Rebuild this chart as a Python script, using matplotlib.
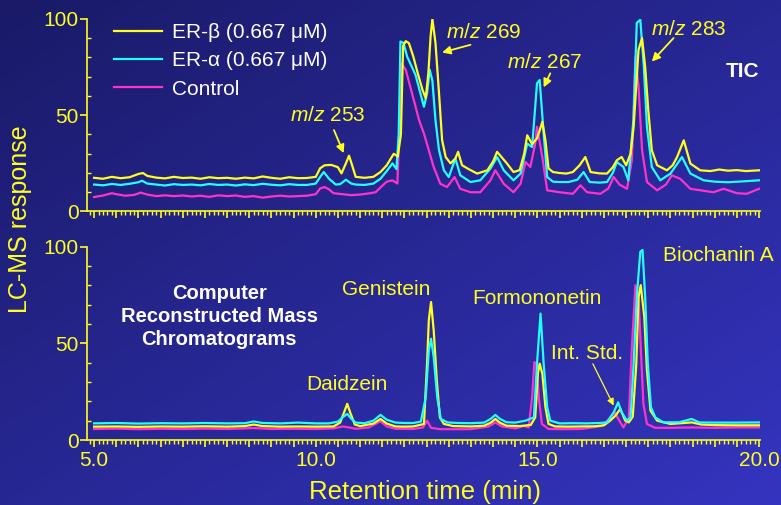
import numpy as np
import matplotlib
matplotlib.use("Agg")
import matplotlib.pyplot as plt
from matplotlib.ticker import MultipleLocator, FixedLocator

plt.rcParams["font.family"] = ["Liberation Sans", "DejaVu Sans"]
plt.rcParams["mathtext.fontset"] = "custom"
plt.rcParams["mathtext.it"] = "Liberation Sans:italic"
plt.rcParams["mathtext.rm"] = "Liberation Sans"

# ---- TIC panel (top) ----
tic_beta_t = [5.0, 5.2, 5.4, 5.6, 5.8, 6.0, 6.1, 6.2, 6.4, 6.6, 6.8, 7.0, 7.2, 7.4, 7.6, 7.8,
              8.0, 8.2, 8.4, 8.6, 8.8, 9.0, 9.2, 9.4, 9.6, 9.8, 10.0, 10.1, 10.2, 10.35, 10.5,
              10.58, 10.68, 10.75, 10.82, 10.9, 11.1, 11.3, 11.46, 11.6, 11.76, 11.85, 11.92,
              11.97, 12.03, 12.1, 12.2, 12.3, 12.41, 12.48, 12.54, 12.59, 12.63, 12.7, 12.78,
              12.85, 12.93, 13.04, 13.15, 13.21, 13.3, 13.45, 13.64, 13.87, 14.0, 14.09, 14.2,
              14.31, 14.46, 14.6, 14.7, 14.77, 14.88, 14.99, 15.05, 15.11, 15.18, 15.25, 15.35,
              15.5, 15.65, 15.8, 15.95, 16.08, 16.2, 16.4, 16.57, 16.7, 16.79, 16.9, 17.0, 17.1,
              17.17, 17.28, 17.36, 17.43, 17.5, 17.58, 17.7, 17.92, 18.05, 18.15, 18.3, 18.45,
              18.67, 18.9, 19.1, 19.3, 19.5, 19.7, 20.0]
tic_beta_v = [17.5, 17.0, 18.0, 17.3, 17.8, 19.5, 20.0, 18.5, 17.6, 17.2, 18.0, 17.4, 17.6, 17.0, 17.8, 17.3,
              17.5, 17.0, 17.6, 17.2, 18.2, 17.5, 17.0, 17.8, 17.3, 17.4, 18.0, 22.5, 24.0, 24.2, 23.0,
              19.8, 25.0, 29.0, 24.0, 18.0, 17.5, 18.0, 20.5, 24.0, 30.0, 28.5, 40.0,
              86.0, 88.5, 87.5, 80.5, 71.8, 63.0, 58.8, 72.0, 91.0, 100.0, 87.6, 61.5,
              37.0, 28.3, 25.0, 27.6, 31.0, 24.0, 22.0, 19.7, 21.4, 26.0, 31.0, 28.0,
              25.0, 20.5, 21.5, 30.0, 39.6, 35.0, 38.0, 42.0, 46.6, 37.0, 22.4, 20.5,
              20.0, 19.7, 20.5, 24.0, 28.3, 20.5, 19.8, 19.7, 23.0, 26.6, 28.3, 24.0, 30.0,
              44.0, 84.0, 90.0, 75.0, 52.7, 31.8, 24.0, 21.4, 24.0, 28.3, 37.0, 24.9,
              21.4, 21.0, 21.8, 21.2, 21.5, 21.0, 21.4]

tic_alpha_t = [5.0, 5.2, 5.4, 5.6, 5.8, 6.0, 6.08, 6.2, 6.4, 6.6, 6.8, 7.0, 7.2, 7.4, 7.6, 7.8,
               8.0, 8.2, 8.4, 8.6, 8.8, 9.0, 9.2, 9.4, 9.6, 9.8, 10.0, 10.1, 10.18, 10.3, 10.45,
               10.55, 10.68, 10.8, 10.9, 11.1, 11.3, 11.46, 11.6, 11.73, 11.82, 11.87, 11.91,
               11.98, 12.06, 12.13, 12.25, 12.36, 12.44, 12.51, 12.57, 12.63, 12.7, 12.78, 12.89,
               13.0, 13.15, 13.26, 13.49, 13.71, 13.94, 14.09, 14.24, 14.46, 14.62, 14.77, 14.88,
               14.99, 15.05, 15.14, 15.22, 15.35, 15.5, 15.7, 15.9, 16.04, 16.18, 16.4, 16.57,
               16.7, 16.79, 16.94, 17.05, 17.17, 17.24, 17.32, 17.4, 17.47, 17.58, 17.77, 18.0,
               18.26, 18.45, 18.75, 19.0, 19.3, 19.6, 20.0]
tic_alpha_v = [14.0, 13.6, 14.3, 13.8, 14.4, 15.2, 16.0, 14.5, 14.0, 13.5, 14.2, 13.8, 14.0, 13.6, 14.3, 13.8,
               14.0, 13.5, 14.1, 13.7, 14.4, 13.9, 13.6, 14.2, 13.8, 13.8, 14.5, 18.0, 20.5, 17.0, 14.0,
               14.2, 16.5, 14.5, 14.0, 13.8, 14.5, 17.0, 21.0, 25.0, 22.0, 40.0, 88.3,
               87.5, 80.5, 77.0, 71.0, 61.4, 54.4, 61.4, 73.6, 68.0, 47.5, 31.8, 21.4,
               17.9, 27.5, 18.8, 15.3, 16.2, 22.3, 28.3, 21.4, 16.2, 19.7, 35.3, 33.5,
               66.6, 68.3, 40.5, 17.9, 15.5, 15.3, 15.3, 16.5, 20.5, 15.3, 15.0, 15.3,
               20.0, 25.7, 23.1, 16.2, 49.0, 98.0, 99.6, 75.3, 44.0, 23.1, 16.2, 19.7,
               28.3, 19.7, 16.2, 15.5, 15.2, 15.6, 16.2]

tic_ctrl_t = [5.0, 5.2, 5.4, 5.5, 5.7, 5.9, 6.05, 6.2, 6.4, 6.6, 6.8, 7.0, 7.2, 7.4, 7.6, 7.8,
              8.0, 8.2, 8.4, 8.6, 8.8, 9.0, 9.2, 9.4, 9.6, 9.8, 10.0, 10.1, 10.2, 10.3, 10.4,
              10.6, 10.8, 11.0, 11.2, 11.35, 11.46, 11.6, 11.73, 11.84, 11.88, 11.93, 12.03,
              12.1, 12.21, 12.33, 12.44, 12.55, 12.66, 12.81, 12.96, 13.13, 13.26, 13.49, 13.71,
              13.94, 14.05, 14.24, 14.46, 14.62, 14.73, 14.84, 14.95, 14.99, 15.11, 15.22, 15.5,
              15.8, 15.97, 16.12, 16.42, 16.6, 16.72, 16.85, 17.02, 17.13, 17.21, 17.28, 17.36,
              17.47, 17.7, 17.9, 18.03, 18.22, 18.45, 18.97, 19.2, 19.5, 19.72, 20.0]
tic_ctrl_v = [7.5, 8.3, 9.5, 9.0, 8.2, 8.6, 9.8, 8.8, 8.0, 8.4, 8.0, 8.3, 7.8, 8.2, 7.6, 8.4,
              8.0, 8.3, 7.6, 8.0, 7.2, 7.8, 8.2, 7.8, 8.0, 8.2, 9.0, 12.0, 12.7, 11.5, 9.5,
              9.0, 8.5, 8.8, 9.4, 10.0, 12.5, 15.5, 16.2, 14.5, 38.8, 77.0, 73.6,
              67.5, 58.0, 47.5, 40.5, 31.8, 23.1, 14.4, 12.7, 17.9, 11.8, 10.0, 10.0,
              16.2, 21.4, 14.4, 10.0, 14.4, 25.7, 23.1, 35.3, 44.0, 28.3, 11.0, 10.0,
              9.2, 13.6, 10.0, 9.2, 12.0, 17.9, 14.0, 11.8, 26.6, 80.5, 64.8, 31.8,
              15.3, 11.0, 14.0, 18.8, 17.0, 11.8, 10.0, 11.8, 9.5, 9.2, 11.8]

# ---- Reconstructed mass chromatograms (bottom) ----
rmc_beta_t = [5.0, 5.5, 6.0, 6.5, 7.0, 7.5, 8.0, 8.4, 8.6, 8.8, 9.2, 9.6, 10.0, 10.4, 10.55,
              10.65, 10.71, 10.78, 10.88, 11.0, 11.3, 11.46, 11.6, 11.8, 12.0, 12.2, 12.44,
              12.51, 12.55, 12.6, 12.66, 12.73, 12.8, 12.89, 13.1, 13.5, 13.8, 13.95, 14.05,
              14.15, 14.3, 14.6, 14.85, 14.95, 15.01, 15.05, 15.11, 15.18, 15.25, 15.4, 15.7,
              16.0, 16.3, 16.5, 16.64, 16.76, 16.87, 16.98, 17.06, 17.15, 17.23, 17.28, 17.33,
              17.41, 17.47, 17.55, 17.7, 18.0, 18.48, 18.7, 19.0, 19.5, 20.0]
rmc_beta_v = [6.9, 7.0, 6.8, 7.0, 6.9, 7.1, 6.9, 7.2, 8.0, 7.2, 6.9, 7.0, 6.9, 7.0, 9.0,
              15.0, 18.7, 14.0, 8.0, 7.2, 8.5, 10.9, 8.5, 7.0, 6.9, 7.0, 8.3,
              39.5, 62.0, 71.4, 56.7, 30.8, 11.7, 8.3, 7.2, 7.0, 7.4, 9.0, 10.9,
              9.0, 7.4, 7.2, 7.8, 11.7, 34.3, 39.5, 34.3, 17.0, 8.3, 7.0, 6.9,
              7.0, 7.1, 7.6, 10.0, 12.6, 16.1, 10.0, 9.1, 12.0, 39.5, 74.0, 80.1,
              63.7, 36.0, 15.2, 10.0, 8.3, 9.1, 8.0, 7.7, 7.6, 7.6]

rmc_alpha_t = [5.0, 5.5, 6.0, 6.5, 7.0, 7.5, 8.0, 8.4, 8.6, 8.8, 9.2, 9.6, 10.0, 10.3, 10.5,
               10.62, 10.71, 10.8, 10.9, 11.1, 11.3, 11.46, 11.6, 11.8, 12.0, 12.2, 12.37,
               12.48, 12.55, 12.6, 12.66, 12.74, 12.82, 12.97, 13.2, 13.5, 13.8, 13.95, 14.05,
               14.15, 14.3, 14.5, 14.73, 14.92, 14.99, 15.07, 15.14, 15.22, 15.29, 15.5, 15.8,
               16.1, 16.4, 16.57, 16.72, 16.82, 16.9, 17.02, 17.1, 17.17, 17.24, 17.32, 17.37,
               17.43, 17.49, 17.56, 17.66, 17.84, 18.2, 18.48, 18.65, 19.0, 19.5, 20.05]
rmc_alpha_v = [8.6, 8.8, 8.5, 8.7, 8.6, 8.8, 8.6, 8.7, 9.6, 8.8, 8.6, 9.0, 8.6, 8.6, 9.5,
               12.0, 13.5, 11.0, 9.0, 8.7, 10.0, 13.0, 10.5, 9.0, 8.8, 8.8, 9.5,
               22.0, 46.4, 52.4, 42.9, 22.0, 10.9, 9.1, 8.8, 8.7, 9.0, 11.0, 13.0,
               11.0, 9.2, 9.0, 10.0, 11.7, 39.5, 65.4, 39.5, 17.0, 10.0, 8.6, 8.7,
               8.6, 8.8, 9.1, 14.3, 19.5, 14.3, 10.0, 11.5, 39.5, 74.0, 97.4, 98.3,
               74.0, 39.5, 17.0, 11.7, 9.1, 9.2, 10.9, 9.1, 9.0, 9.0, 9.1]

rmc_ctrl_t = [5.0, 5.5, 6.0, 6.5, 7.0, 7.5, 8.0, 8.6, 9.0, 9.5, 10.0, 10.4, 10.6, 10.75,
              10.9, 11.2, 11.46, 11.6, 11.8, 12.2, 12.42, 12.51, 12.6, 12.8, 13.5, 13.9,
              14.05, 14.2, 14.5, 14.7, 14.8, 14.88, 14.93, 14.98, 15.03, 15.1, 15.25, 15.6,
              16.0, 16.46, 16.61, 16.74, 16.87, 16.94, 17.06, 17.13, 17.21, 17.28, 17.33,
              17.39, 17.47, 17.65, 18.0, 18.5, 19.0, 19.5, 20.0]
rmc_ctrl_v = [5.7, 5.9, 5.6, 5.8, 5.7, 5.9, 5.7, 6.2, 5.7, 5.8, 5.7, 6.0, 7.0, 6.5,
              5.8, 6.5, 9.7, 7.0, 5.8, 5.7, 6.5, 10.0, 6.3, 5.6, 5.6, 7.0,
              9.1, 7.0, 6.0, 7.3, 6.5, 22.0, 40.3, 39.5, 22.0, 8.3, 5.7, 5.6,
              5.7, 7.3, 10.9, 14.3, 9.1, 6.5, 11.5, 48.0, 80.1, 74.0, 48.0,
              18.7, 8.3, 6.3, 6.3, 6.5, 6.3, 6.5, 6.5]

labels = ["ER-\u03b2 (0.667 \u03bcM)", "ER-\u03b1 (0.667 \u03bcM)", "Control"]
colors = ["#ffff1e", "#22ffff", "#ff33cc"]
yel = "#ffff1e"

W, H = 781, 505
fig = plt.figure(figsize=(W / 100, H / 100), dpi=100)

# gradient background
bg = fig.add_axes([0, 0, 1, 1], zorder=-10)
gx, gy = np.meshgrid(np.linspace(0, 1, 200), np.linspace(0, 1, 200))
g = (gx + gy) / 2
c0 = np.array([26, 26, 104]) / 255
c1 = np.array([52, 52, 192]) / 255
img = c0[None, None, :] * (1 - g[..., None]) + c1[None, None, :] * g[..., None]
bg.imshow(img, aspect="auto", extent=[0, 1, 0, 1], origin="upper")
bg.axis("off")

ax1 = fig.add_axes([87 / W, 1 - 211.5 / H, 673 / W, 192.5 / H])
ax2 = fig.add_axes([87 / W, 1 - 440 / H, 673 / W, 193.3 / H])

for ax in (ax1, ax2):
    ax.patch.set_visible(False)
    ax.set_xlim(4.84, 20.02)
    ax.set_ylim(0, 100)
    for s in ["top", "right"]:
        ax.spines[s].set_visible(False)
    for s in ["left", "bottom"]:
        ax.spines[s].set_color(yel)
        ax.spines[s].set_linewidth(1.2)
    ax.xaxis.set_major_locator(MultipleLocator(0.5))
    ax.xaxis.set_minor_locator(MultipleLocator(0.1))
    ax.yaxis.set_major_locator(FixedLocator([0, 50, 100]))
    ax.yaxis.set_minor_locator(MultipleLocator(10))
    ax.tick_params(axis="x", which="major", direction="out", length=5, width=1.2, color=yel)
    ax.tick_params(axis="x", which="minor", direction="out", length=3, width=1, color=yel)
    ax.tick_params(axis="y", which="major", direction="out", length=5, width=1.2, color=yel,
                   labelcolor=yel, labelsize=15, pad=1)
    ax.tick_params(axis="y", which="minor", direction="in", length=3, width=1, color=yel)

# draw order: control under, then the others
ax1.plot(tic_ctrl_t, tic_ctrl_v, color=colors[2], lw=1.6)
ax1.plot(tic_alpha_t, tic_alpha_v, color=colors[1], lw=1.6)
ax1.plot(tic_beta_t, tic_beta_v, color=colors[0], lw=1.6)
ax2.plot(rmc_ctrl_t, rmc_ctrl_v, color=colors[2], lw=1.6)
ax2.plot(rmc_beta_t, rmc_beta_v, color=colors[0], lw=1.6)
ax2.plot(rmc_alpha_t, rmc_alpha_v, color=colors[1], lw=1.6)

ax1.tick_params(axis="x", labelbottom=False)
ax2.xaxis.set_major_formatter(plt.FuncFormatter(
    lambda v, p: f"{v:.1f}" if abs(v - round(v / 5) * 5) < 1e-6 else ""))
ax2.tick_params(axis="x", labelcolor=yel, labelsize=15, pad=3)

# legend
handles = [plt.Line2D([], [], color=c, lw=1.6) for c in colors]
leg = ax1.legend(handles, labels, loc="upper left", bbox_to_anchor=(114 / W, 1 - 23 / H),
                 bbox_transform=fig.transFigure, frameon=False, fontsize=15,
                 handlelength=2.3, handletextpad=0.5, labelspacing=0.45,
                 borderpad=0, borderaxespad=0)
for t in leg.get_texts():
    t.set_color("white")

# TIC annotations
txt = dict(color=yel, fontsize=15, ha="center", va="center")
arr = dict(arrowstyle="-|>", color=yel, lw=1.3, mutation_scale=12, shrinkA=0, shrinkB=0)
ax1.text(10.27, 50, r"$\it{m/z}$ 253", **txt)
ax1.annotate("", xy=(10.63, 30.3), xytext=(10.41, 42.3), arrowprops=arr)
ax1.text(13.78, 92.8, r"$\it{m/z}$ 269", **txt)
ax1.annotate("", xy=(12.85, 82.6), xytext=(13.49, 86.6), arrowprops=arr)
ax1.text(15.16, 77.2, r"$\it{m/z}$ 267", **txt)
ax1.annotate("", xy=(15.14, 64.5), xytext=(15.29, 71.8), arrowprops=arr)
ax1.text(18.4, 94.4, r"$\it{m/z}$ 283", **txt)
ax1.annotate("", xy=(17.58, 77.9), xytext=(18.07, 90.1), arrowprops=arr)
ax1.text(19.62, 72.5, "TIC", color="white", fontsize=15, fontweight="bold", ha="center", va="center")

# RMC annotations
ax2.text(7.82, 64, "Computer\nReconstructed Mass\nChromatograms", color="white", fontsize=14.5,
         fontweight="bold", ha="center", va="center", linespacing=1.25)
ax2.text(10.7, 28.7, "Daidzein", **txt)
ax2.text(11.58, 77.6, "Genistein", **txt)
ax2.text(14.98, 73.4, "Formononetin", **txt)
ax2.text(16.13, 44.8, "Int. Std.", **txt)
ax2.annotate("", xy=(16.72, 17.8), xytext=(16.25, 39.4),
             arrowprops=dict(arrowstyle="-|>", color=yel, lw=0.9, mutation_scale=10, shrinkA=0, shrinkB=0))
ax2.text(19.08, 95.2, "Biochanin A", **txt)

fig.text(20 / W, 1 - 219 / H, "LC-MS response", color=yel, fontsize=18, rotation=90,
         ha="center", va="center")
fig.text(425 / W, 1 - 492 / H, "Retention time (min)", color=yel, fontsize=18.5,
         ha="center", va="center")

fig.savefig("out.png", dpi=100)
